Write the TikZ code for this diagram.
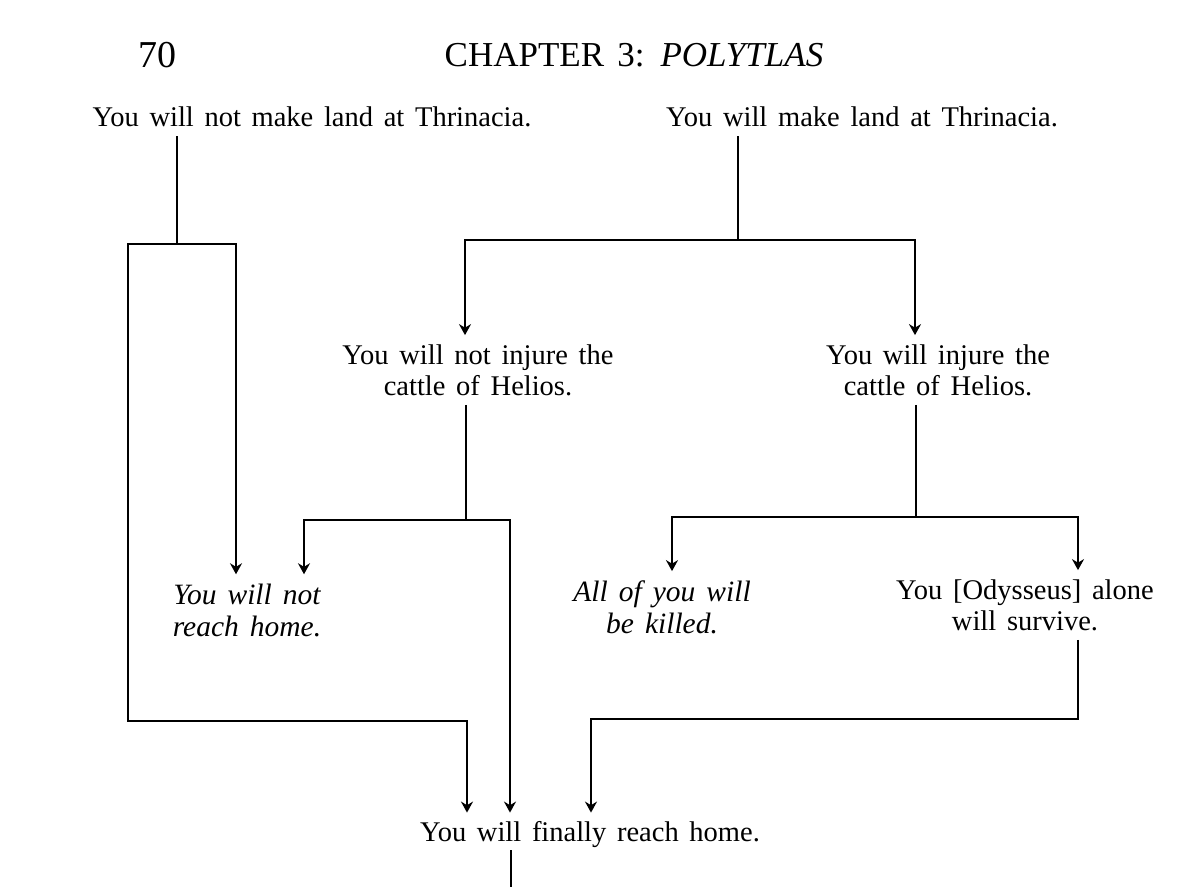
\documentclass[tikz,border=0pt]{standalone}
\usepackage{fontspec}
\setmainfont{Liberation Serif}[WordSpace=1.5]
\usetikzlibrary{arrows.meta}

\begin{document}
\begin{tikzpicture}[x=1pt, y=-1pt, line width=2.6pt,
    fate/.style={align=center, inner xsep=0pt, inner ysep=8pt, font=\fontsize{28.5}{31}\selectfont},
    doom/.style={fate, font=\fontsize{29.5}{32}\selectfont\itshape},
    >={Stealth[length=11pt, width=12pt]}]
\useasboundingbox (0,0) rectangle (1200,887);
% Heading
\node[font=\fontsize{38}{38}\selectfont] (page) at (157,55) {70};
\node[font=\fontsize{35}{35}\selectfont] (chapter) at (634,55) {CHAPTER 3: \textit{POLYTLAS}};
% Nodes
\node[fate] (noland) at (312,117) {You will not make land at Thrinacia.};
\node[fate] (land) at (862,117) {You will make land at Thrinacia.};
\node[fate] (spare) at (478,370) {You will not injure the\\cattle of Helios.};
\node[fate] (injure) at (938,370) {You will injure the\\cattle of Helios.};
\node[doom] (nohome) at (247,610) {You will not\\reach home.};
\node[doom] (killed) at (662,607) {All of you will\\be killed.};
\node[fate] (alone) at (1025,605) {You [Odysseus] alone\\will survive.};
\node[fate] (home) at (590,835) {You will finally reach home.};
% Junctions
\coordinate (j1) at (177,244);
\coordinate (l1) at (128,244);
\coordinate (r1) at (236,244);
\coordinate (b1) at (467,721);
\coordinate (j2) at (738,240);
\coordinate (l2) at (465,240);
\coordinate (r2) at (915,240);
\coordinate (j3) at (466,520);
\coordinate (l3) at (304,520);
\coordinate (r3) at (510,520);
\coordinate (j4) at (916,517);
\coordinate (l4) at (672,517);
\coordinate (r4) at (1078,517);
\coordinate (r5) at (1078,719);
\coordinate (b5) at (591,719);
\coordinate (tail) at (511,887);
% Edges
\draw (noland.south -| j1) -- (j1);
\draw[->] (j1) -- (l1) |- (b1) -- (b1 |- home.north);
\draw[->] (j1) -- (r1) -- (r1 |- nohome.north);
\draw (land.south -| j2) -- (j2);
\draw[->] (j2) -- (l2) -- (l2 |- spare.north);
\draw[->] (j2) -- (r2) -- (r2 |- injure.north);
\draw (spare.south -| j3) -- (j3);
\draw[->] (j3) -- (l3) -- (l3 |- nohome.north);
\draw[->] (j3) -- (r3) -- (r3 |- home.north);
\draw (injure.south -| j4) -- (j4);
\draw[->] (j4) -- (l4) -- (l4 |- killed.north);
\draw[->] (j4) -- (r4) -- (r4 |- alone.north);
\draw[->] (alone.south -| r5) -- (r5) -- (b5) -- (b5 |- home.north);
\draw[shorten <=-7pt] (home.south -| tail) -- (tail);
\end{tikzpicture}
\end{document}
